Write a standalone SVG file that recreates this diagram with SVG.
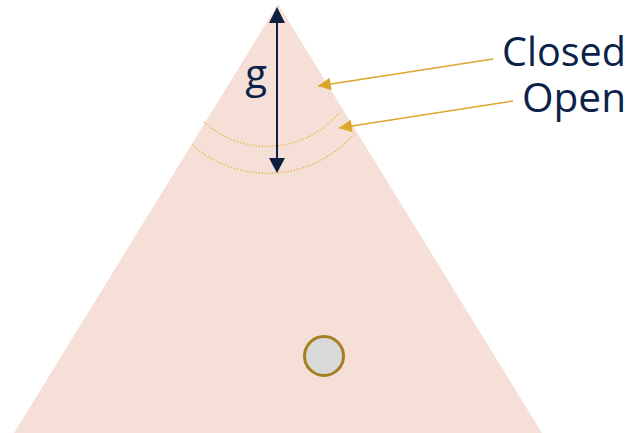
<svg xmlns="http://www.w3.org/2000/svg" width="633" height="433" viewBox="0 0 633 433">
<style>
.lbl{font-family:"Open Sans","Liberation Sans",sans-serif;fill:#0c2248}
.gold{stroke:#dca62a;stroke-width:1.6;fill:none}
.dot{stroke:#e6b23a;stroke-width:1.3;fill:none;stroke-dasharray:1.3 1.9}
</style>
<defs>
<marker id="gld" viewBox="0 0 10 10" refX="10" refY="5" markerWidth="10" markerHeight="8" markerUnits="strokeWidth" orient="auto">
<path d="M0,0 L10,5 L0,10 Z" fill="#dca62a"/>
</marker>
</defs>
<g id="cone">
<polygon points="278,4 14,433 542,433" fill="#f5dfd7"/>
<path class="dot" d="M204,122 A94,94 0 0 0 339,113"/>
<path class="dot" d="M192,145 A115,115 0 0 0 355,133"/>
</g>
<g id="particle">
<circle cx="324" cy="356" r="19.5" fill="#d9d9d9" stroke="#a57f1f" stroke-width="3"/>
</g>
<g id="label-g"><text class="lbl" x="256" y="88" font-size="40" text-anchor="middle">g</text></g>
<g id="label-closed"><text class="lbl" x="626" y="66" font-size="40" text-anchor="end" textLength="124" lengthAdjust="spacingAndGlyphs">Closed</text></g>
<g id="label-open"><text class="lbl" x="626" y="112" font-size="40" text-anchor="end" textLength="104" lengthAdjust="spacingAndGlyphs">Open</text></g>
<g id="connectors">
<line x1="277" y1="23" x2="277" y2="158" stroke="#0e1f40" stroke-width="2"/>
<polygon points="277,7 269,23 285,23" fill="#0e1f40"/>
<polygon points="277,173 269,158 285,158" fill="#0e1f40"/>
<line class="gold" x1="493" y1="59" x2="318" y2="86" marker-end="url(#gld)"/>
<line class="gold" x1="513" y1="101" x2="339" y2="128" marker-end="url(#gld)"/>
</g>
</svg>
